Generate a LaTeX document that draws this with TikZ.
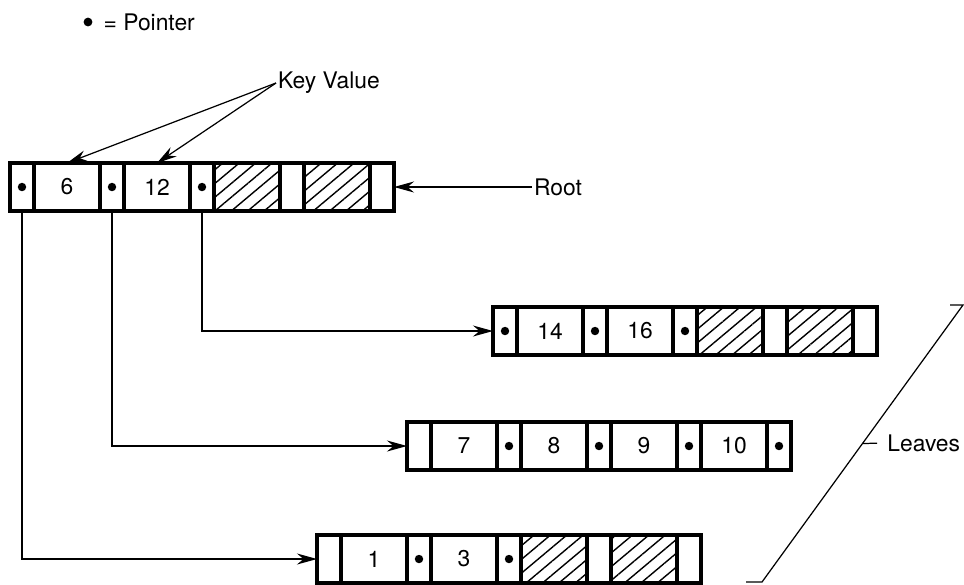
\documentclass[tikz,border=0pt]{standalone}
\usepackage{fontspec}
\setmainfont{TeX Gyre Heros}
\usepackage{tikz}
\usetikzlibrary{arrows.meta,positioning,patterns.meta,calc}

\begin{document}
\begin{tikzpicture}[
  node distance=0pt,
  every node/.style={font=\fontsize{13}{15}\selectfont},
  cell/.style={draw, line width=1.9pt, minimum height=0.96cm, inner sep=0pt, outer sep=0pt},
  ptr/.style={cell, minimum width=0.48cm},
  ptrdot/.style={ptr, path picture={\fill (path picture bounding box.center) circle (2.4pt);}},
  key/.style={cell, minimum width=1.32cm},
  hatch/.style={key, pattern={Lines[angle=40, distance=6pt, line width=0.8pt]}},
  lbl/.style={inner sep=1pt},
  arrow/.style={-{Stealth[length=4mm, width=2.2mm]}, line width=0.7pt}
]
\useasboundingbox (0,0) rectangle (19.28,-11.68);

% legend
\node[circle, fill, inner sep=0pt, minimum size=5pt] (legdot) at (1.76,-0.44) {};
\node[lbl, right=5pt of legdot] (legend) {= Pointer};

% root
\node[ptrdot, anchor=west] (r1) at (0.2,-3.74) {};
\node[key, right=of r1] (r2) {6};
\node[ptrdot, right=of r2] (r3) {};
\node[key, right=of r3] (r4) {12};
\node[ptrdot, right=of r4] (r5) {};
\node[hatch, right=of r5] (r6) {};
\node[ptr, right=of r6] (r7) {};
\node[hatch, right=of r7] (r8) {};
\node[ptr, right=of r8] (r9) {};

% leaf 14 16
\node[ptrdot, anchor=west] (a1) at (9.86,-6.62) {};
\node[key, right=of a1] (a2) {14};
\node[ptrdot, right=of a2] (a3) {};
\node[key, right=of a3] (a4) {16};
\node[ptrdot, right=of a4] (a5) {};
\node[hatch, right=of a5] (a6) {};
\node[ptr, right=of a6] (a7) {};
\node[hatch, right=of a7] (a8) {};
\node[ptr, right=of a8] (a9) {};

% leaf 7 8 9 10
\node[ptr, anchor=west] (b1) at (8.14,-8.92) {};
\node[key, right=of b1] (b2) {7};
\node[ptrdot, right=of b2] (b3) {};
\node[key, right=of b3] (b4) {8};
\node[ptrdot, right=of b4] (b5) {};
\node[key, right=of b5] (b6) {9};
\node[ptrdot, right=of b6] (b7) {};
\node[key, right=of b7] (b8) {10};
\node[ptrdot, right=of b8] (b9) {};

% leaf 1 3
\node[ptr, anchor=west] (c1) at (6.34,-11.18) {};
\node[key, right=of c1] (c2) {1};
\node[ptrdot, right=of c2] (c3) {};
\node[key, right=of c3] (c4) {3};
\node[ptrdot, right=of c4] (c5) {};
\node[hatch, right=of c5] (c6) {};
\node[ptr, right=of c6] (c7) {};
\node[hatch, right=of c7] (c8) {};
\node[ptr, right=of c8] (c9) {};

% labels
\node[lbl, anchor=west] (keyval) at (5.52,-1.66) {Key Value};
\node[lbl, anchor=west] (rootlbl) at (10.64,-3.74) {Root};
\node[lbl, anchor=west, inner sep=0pt] (leaves) at (17.74,-8.86) {Leaves};

\draw[arrow] (keyval.west) -- (r2.north);
\draw[arrow] (keyval.west) -- (r4.north);
\draw[arrow] (rootlbl.west) -- (r9.east);

\draw[arrow] (r1.south) |- (c1.west);
\draw[arrow] (r3.south) |- (b1.west);
\draw[arrow] (r5.south) |- (a1.west);

% leaves bracket
\coordinate (lvtop) at (19.26,-6.1);
\coordinate (lvbot) at (15.24,-11.64);
\coordinate (lvmid) at ($(lvtop)!.5!(lvbot)$);
\draw[line width=0.7pt] (19.0,-6.1) -- (lvtop) -- (lvbot) -- (14.92,-11.64);
\draw[line width=0.7pt, shorten >=0.2cm] (lvmid) -- (leaves.west);
\end{tikzpicture}
\end{document}
